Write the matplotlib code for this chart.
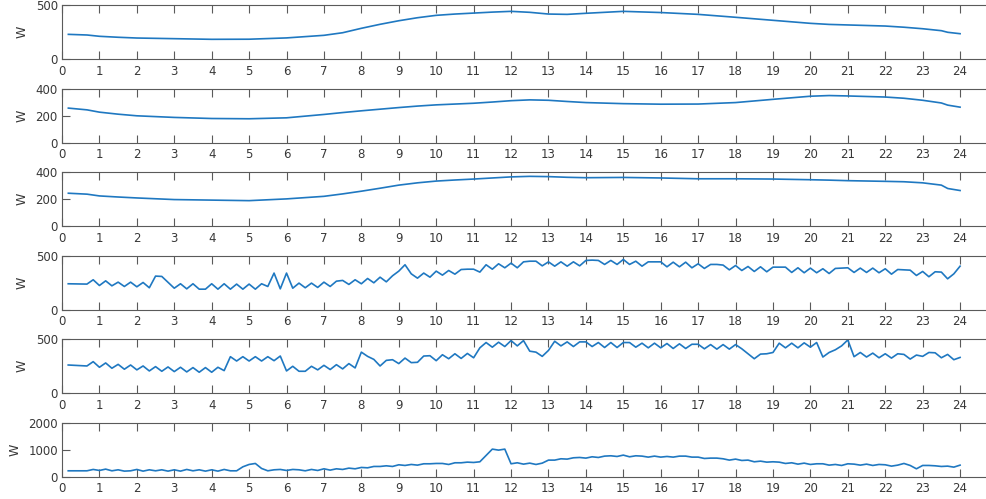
import numpy as np
import matplotlib
matplotlib.use("Agg")
import matplotlib.pyplot as plt

# ---- data ----
hours_smooth = [0.17, 0.67, 1, 1.5, 2, 3, 4, 5, 6, 7, 7.5, 8, 8.5, 9, 9.5, 10, 10.5, 11, 11.5,
                12, 12.5, 13, 13.5, 14, 15, 16, 17, 18, 19, 20, 20.5, 21, 22, 22.5, 23, 23.5, 23.67, 24]

p1 = [231, 225, 213, 204, 197, 191, 185, 186, 198, 222, 246, 287, 324, 357, 385, 407, 419, 428, 437,
      444, 435, 419, 416, 426, 444, 433, 416, 389, 361, 333, 323, 318, 308, 297, 283, 265, 250, 237]

p2 = [257, 244, 227, 212, 200, 188, 180, 178, 185, 210, 224, 237, 249, 261, 272, 281, 287, 293, 302,
      312, 318, 315, 306, 298, 290, 286, 287, 298, 322, 345, 350, 347, 339, 330, 315, 295, 279, 264]

p3 = [245, 238, 225, 217, 210, 198, 194, 190, 203, 222, 240, 260, 282, 305, 322, 335, 343, 350, 358,
      366, 370, 368, 363, 360, 362, 358, 352, 352, 350, 345, 342, 338, 333, 330, 322, 305, 280, 265]

hours_10min = np.arange(1, 145) / 6.0

p4 = [241, 240, 239, 238, 278, 225, 268, 222, 256, 216, 256, 213, 253, 204, 312, 309, 255, 200,
      241, 194, 241, 191, 191, 241, 191, 241, 191, 238, 191, 238, 191, 241, 216, 340, 194, 340,
      200, 247, 204, 247, 207, 256, 216, 265, 272, 235, 278, 241, 290, 250, 302, 259, 315, 358,
      417, 333, 293, 340, 302, 358, 321, 364, 330, 373, 376, 376, 349, 417, 376, 426,
      389, 432, 389, 444, 450, 450, 407, 444, 404, 444, 404, 444, 407, 457, 460, 457, 420, 457,
      420, 466, 420, 450, 404, 444, 444, 444, 398, 441, 398, 441, 389, 426, 383, 420, 420, 414,
      370, 410, 364, 401, 355, 398, 352, 395, 395, 395, 346, 389, 343, 386, 343, 380, 336, 383,
      386, 389, 346, 386, 346, 386, 343, 380, 330, 373, 370, 367, 318, 355, 306, 352, 349, 287,
      333, 404]

p5 = [262, 259, 256, 253, 293, 241, 281, 232, 268, 223, 262, 217, 253, 207, 247, 204, 244, 201,
      241, 198, 238, 195, 238, 195, 241, 210, 339, 299, 339, 299, 339, 299, 339, 302, 345, 207,
      250, 204, 204, 250, 217, 259, 220, 265, 226, 275, 235, 381, 342, 314, 253, 305, 311, 275,
      326, 284, 287, 345, 348, 302, 357, 320, 366, 323, 369, 329, 421, 470, 427, 473,
      433, 488, 439, 488, 390, 381, 342, 397, 482, 439, 476, 433, 476, 476, 433, 470, 424, 470,
      424, 470, 470, 427, 464, 421, 464, 421, 461, 415, 458, 415, 454, 454, 412, 451, 409, 451,
      409, 451, 412, 366, 320, 363, 366, 378, 464, 421, 464, 421, 467, 427, 470, 336, 378, 403,
      439, 494, 339, 378, 336, 372, 329, 366, 326, 366, 360, 317, 354, 342, 378, 375, 329, 360,
      311, 332]

p6 = [222, 222, 222, 222, 272, 235, 284, 222, 259, 210, 222, 272, 210, 259, 222, 259, 210, 259,
      210, 272, 222, 259, 210, 259, 210, 272, 222, 222, 370, 457, 494, 309, 222, 259, 272, 235,
      272, 259, 222, 272, 235, 296, 247, 296, 272, 321, 296, 346, 333, 383, 383, 407, 383, 445,
      420, 457, 432, 482, 482, 494, 494, 457, 519, 519, 543, 531, 556, 790, 1025, 988,
      1025, 482, 519, 469, 506, 457, 506, 618, 618, 667, 655, 704, 716, 692, 741, 716, 766, 778,
      753, 803, 741, 778, 766, 729, 766, 729, 753, 729, 766, 766, 729, 729, 679, 692, 692, 667,
      618, 655, 605, 618, 556, 580, 543, 556, 543, 494, 519, 469, 506, 457, 482, 482, 432, 457,
      420, 482, 469, 432, 469, 420, 457, 445, 395, 432, 494, 420, 296, 420, 420, 407, 383, 395,
      358, 432]

panels = [
    (hours_smooth, p1, 500, [0, 500]),
    (hours_smooth, p2, 400, [0, 200, 400]),
    (hours_smooth, p3, 400, [0, 200, 400]),
    (hours_10min, p4, 500, [0, 500]),
    (hours_10min, p5, 500, [0, 500]),
    (hours_10min, p6, 2000, [0, 1000, 2000]),
]
xticks = list(range(0, 25))

# ---- styling ----
plt.rcParams['font.family'] = ['DejaVu Sans']
W, H = 987, 499
fig = plt.figure(figsize=(W / 100, H / 100), dpi=100)

line_color = '#1f78c1'
axis_color = '#5a5a5a'
text_color = '#383838'

left_px = 62
unit_px = 37.42
xmax = 25
width_px = unit_px * xmax
height_px = 54

for i, (xs, ys, ymax, yt) in enumerate(panels):
    top_px = 5.3 + 83.5 * i
    bottom_px = top_px + height_px
    ax = fig.add_axes([left_px / W, 1 - bottom_px / H, width_px / W, height_px / H])
    ax.plot(xs, ys, color=line_color, lw=1.2)
    ax.set_xlim(0, xmax)
    ax.set_ylim(0, ymax)
    ax.set_xticks(xticks)
    ax.set_yticks(yt)
    ax.tick_params(axis='both', direction='in', length=5.5, width=0.8,
                   color=axis_color, labelcolor=text_color, labelsize=8.5,
                   top=True, right=True)
    ax.tick_params(axis='x', pad=4)
    ax.tick_params(axis='y', pad=3)
    for s in ax.spines.values():
        s.set_color(axis_color)
        s.set_linewidth(0.8)
    ax.set_ylabel('W', fontsize=9, color=text_color, labelpad=5)

fig.savefig('out.png', dpi=100)
